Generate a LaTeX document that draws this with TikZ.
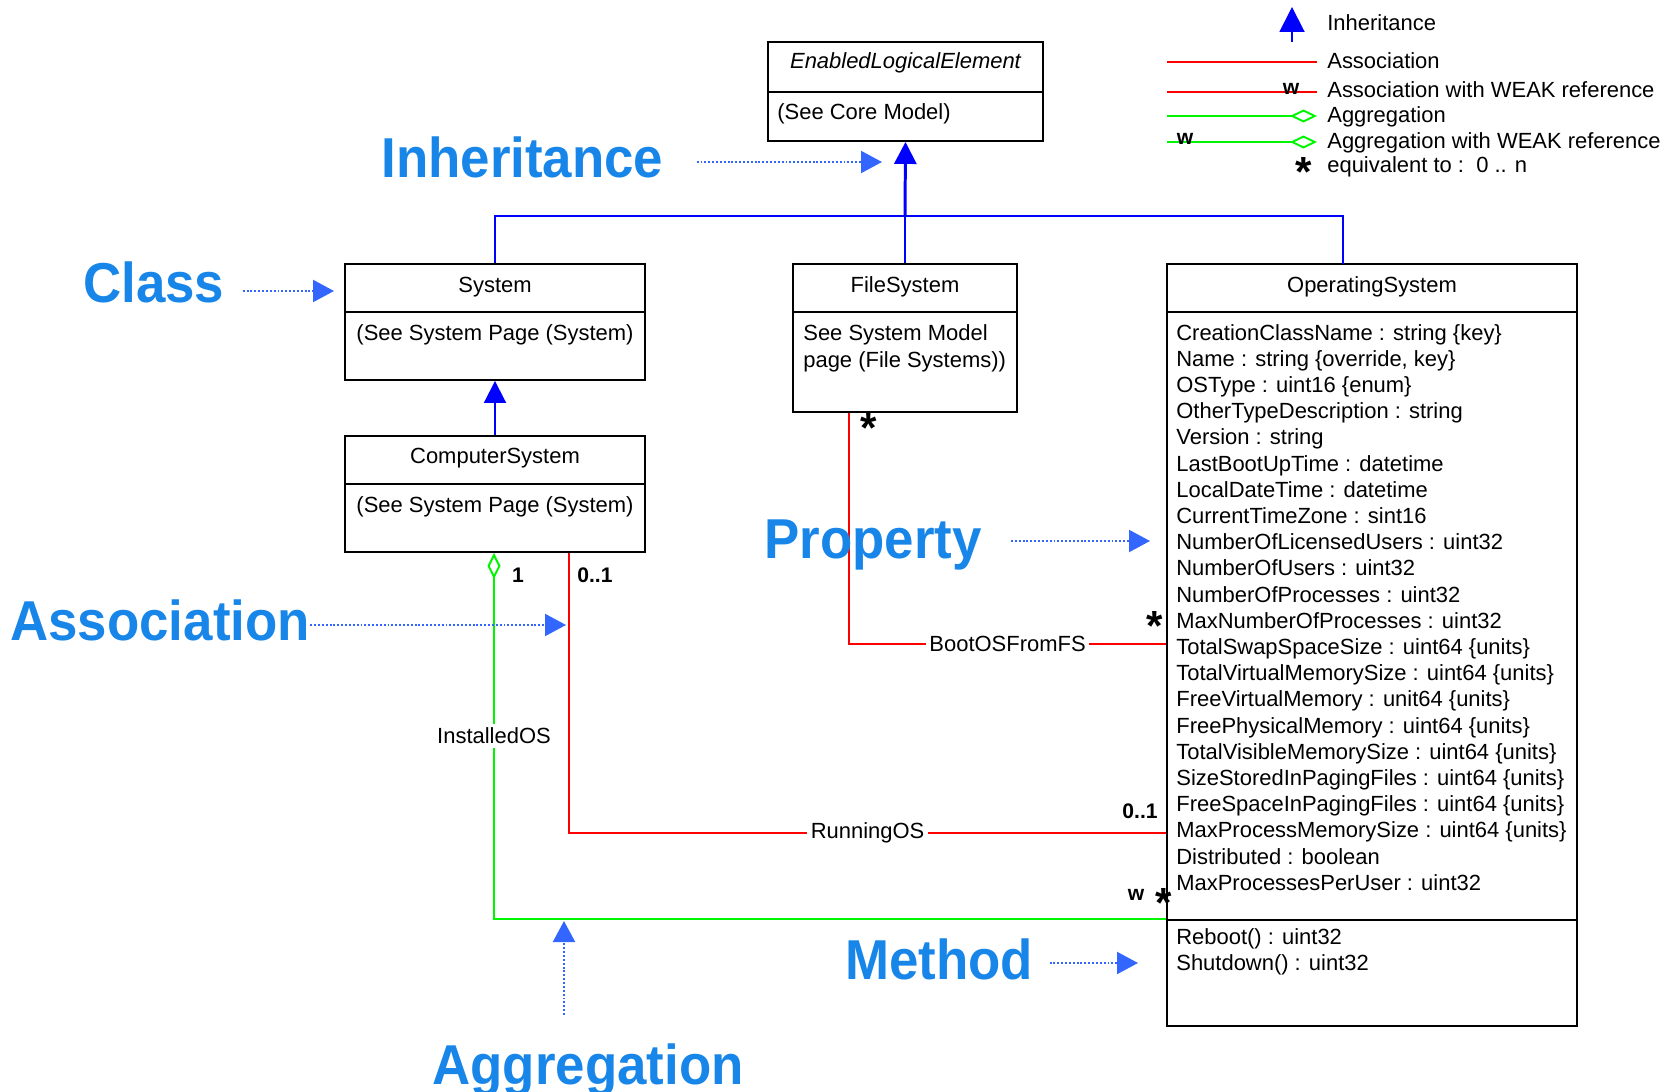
\documentclass[tikz,border=0pt]{standalone}
\usepackage{fontspec}
\setmainfont{Liberation Sans}
\newfontfamily\hintfont[FakeStretch=0.94]{Liberation Sans}
\usetikzlibrary{arrows.meta}

\definecolor{inhblue}{RGB}{0,0,255}
\definecolor{assocred}{RGB}{255,0,0}
\definecolor{aggrgreen}{RGB}{0,245,0}
\definecolor{labelblue}{RGB}{24,134,232}
\definecolor{hintblue}{RGB}{51,102,255}

\tikzset{
  classbox/.style={draw, line width=1.1pt, inner sep=0pt},
  divider/.style={line width=1.1pt},
  txt/.style={inner sep=0pt, font=\fontsize{12.5}{15}\selectfont},
  title/.style={txt, anchor=base},
  body/.style={txt, anchor=base west},
  gen/.style={draw=inhblue, line width=1.1pt},
  genarrow/.style={gen, -{Triangle[length=0.44cm,width=0.44cm]}},
  assoc/.style={draw=assocred, line width=1.1pt},
  aggr/.style={draw=aggrgreen, line width=1.1pt},
  connlbl/.style={txt, fill=white, inner sep=2pt},
  mult/.style={inner sep=0pt, font=\bfseries\fontsize{12}{14}\selectfont},
  starmark/.style={inner sep=0pt, anchor=base, font=\bfseries\fontsize{24}{26}\selectfont},
  weakmark/.style={inner sep=0pt, anchor=base, font=\bfseries\fontsize{12}{14}\selectfont},
  biglabel/.style={inner sep=0pt, text=labelblue, font=\hintfont\bfseries\fontsize{32}{36}\selectfont},
  hint/.style={draw=hintblue, line width=1.2pt, dash pattern=on 1.1pt off 1.1pt,
    -{Triangle[length=0.42cm,width=0.44cm]}}
}

\begin{document}
\begin{tikzpicture}[x=0.02cm, y=-0.02cm]
  \useasboundingbox (0,0) rectangle (1674,1092);

  % classes
  \node[classbox, minimum width=5.5cm, minimum height=1.98cm] (ele) at (905.5,91.5) {};
  \draw[divider] (ele.west |- 0,92) -- (ele.east |- 0,92);
  \node[title, font=\itshape\fontsize{12.5}{15}\selectfont] (eletitle) at (905.5,68) {EnabledLogicalElement};
  \node[body] (elebody) at (777,119) {(See Core Model)};

  \node[classbox, minimum width=6cm, minimum height=2.32cm] (sys) at (495,322) {};
  \draw[divider] (sys.west |- 0,312) -- (sys.east |- 0,312);
  \node[title] (systitle) at (495,292) {System};
  \node[title] (sysbody) at (495,340) {(See System Page (System)};

  \node[classbox, minimum width=6cm, minimum height=2.32cm] (csys) at (495,494) {};
  \draw[divider] (csys.west |- 0,484) -- (csys.east |- 0,484);
  \node[title] (csystitle) at (495,463) {ComputerSystem};
  \node[title] (csysbody) at (495,512) {(See System Page (System)};

  \node[classbox, minimum width=4.48cm, minimum height=2.96cm] (fsys) at (905,338) {};
  \draw[divider] (fsys.west |- 0,312) -- (fsys.east |- 0,312);
  \node[title] (fsystitle) at (905,292) {FileSystem};
  \node[body] (fsysbodya) at (803,340) {See System Model};
  \node[body] (fsysbodyb) at (803,367) {page (File Systems))};

  \node[classbox, minimum width=8.2cm, minimum height=15.24cm] (os) at (1372,645) {};
  \draw[divider] (os.west |- 0,312) -- (os.east |- 0,312);
  \draw[divider] (os.west |- 0,920) -- (os.east |- 0,920);
  \node[title] (ostitle) at (1372,292) {OperatingSystem};
  \foreach \attr [count=\i from 0] in {
      CreationClassName : string \{key\},
      {Name : string \{override, key\}},
      OSType : uint16 \{enum\},
      OtherTypeDescription : string,
      Version : string,
      LastBootUpTime : datetime,
      LocalDateTime : datetime,
      CurrentTimeZone : sint16,
      NumberOfLicensedUsers : uint32,
      NumberOfUsers : uint32,
      NumberOfProcesses : uint32,
      MaxNumberOfProcesses : uint32,
      TotalSwapSpaceSize : uint64 \{units\},
      TotalVirtualMemorySize : uint64 \{units\},
      FreeVirtualMemory : unit64 \{units\},
      FreePhysicalMemory : uint64 \{units\},
      TotalVisibleMemorySize : uint64 \{units\},
      SizeStoredInPagingFiles : uint64 \{units\},
      FreeSpaceInPagingFiles : uint64 \{units\},
      MaxProcessMemorySize : uint64 \{units\},
      Distributed : boolean,
      MaxProcessesPerUser : uint32}
    \node[body] (osattr\i) at (1176,{340+26.2*\i}) {\attr};
  \node[body] (osreboot) at (1176,944) {Reboot() : uint32};
  \node[body] (osshutdown) at (1176,970) {Shutdown() : uint32};

  % inheritance
  \coordinate (bus) at (905,216);
  \coordinate (osdrop) at (1343,264);
  \draw[gen] (sys.north) |- (bus) -| (osdrop);
  \draw[gen] (fsys.north) -- (bus);
  \draw[genarrow, line width=1.7pt] (bus) -- (ele.south);
  \draw[genarrow] (csys.north) -- (sys.south);

  % associations
  \coordinate (bootcorner) at (849,644);
  \draw[assoc] (fsys.south -| bootcorner) -- (bootcorner)
    -- node[connlbl] (bootlbl) {BootOSFromFS} (os.west |- bootcorner);
  \node[starmark] (bootstara) at (869,442) {*};
  \node[starmark] (bootstarb) at (1155,640) {*};

  \coordinate (runcorner) at (569,833);
  \draw[assoc] (csys.south -| runcorner) -- (runcorner)
    -- node[connlbl] (runlbl) {RunningOS} (os.west |- runcorner);
  \node[mult, anchor=base west] (runmulta) at (577,582) {0..1};
  \node[mult, anchor=base east] (runmultb) at (1158,818) {0..1};

  % aggregation
  \coordinate (instcorner) at (494,919);
  \draw[aggr, -{Diamond[open,length=0.52cm,width=0.26cm]}] (os.west |- instcorner) -- (instcorner)
    -- node[connlbl] (instlbl) {InstalledOS} (csys.south -| instcorner);
  \node[mult, anchor=base] (instmult) at (518,582) {1};
  \node[weakmark] (instweak) at (1136,900) {w};
  \node[starmark] (inststar) at (1164,917) {*};

  % callouts
  \node[biglabel, anchor=base west] (lblinh) at (381,177) {Inheritance};
  \node[biglabel, anchor=base west] (lblclass) at (83,302) {Class};
  \node[biglabel, anchor=base east] (lblprop) at (982,558) {Property};
  \node[biglabel, anchor=base west] (lblassoc) at (10,640) {Association};
  \node[biglabel, anchor=base west] (lblmeth) at (845,979) {Method};
  \node[biglabel, anchor=base west] (lblaggr) at (432,1084) {Aggregation};

  \coordinate (inhtip) at (882,162);
  \coordinate (classtip) at (334,291);
  \coordinate (proptip) at (1150,541);
  \coordinate (assoctip) at (566,625);
  \coordinate (methtip) at (1138,963);
  \coordinate (aggrtip) at (564,921);
  \draw[hint, shorten <=0.66cm] (lblinh.east |- inhtip) -- (inhtip);
  \draw[hint, shorten <=0.36cm] (lblclass.east |- classtip) -- (classtip);
  \draw[hint, shorten <=0.58cm] (lblprop.east |- proptip) -- (proptip);
  \draw[hint] (lblassoc.east |- assoctip) -- (assoctip);
  \draw[hint, shorten <=0.32cm] (lblmeth.east |- methtip) -- (methtip);
  \draw[hint, shorten <=0.56cm] (lblaggr.north -| aggrtip) -- (aggrtip);

  % legend
  \draw[gen, -{Triangle[length=0.5cm,width=0.5cm]}] (1292,42) -- (1292,7);
  \draw[assoc] (1167,62) -- (1317,62);
  \draw[assoc] (1167,92) -- (1317,92);
  \draw[aggr, -{Diamond[open,length=0.54cm,width=0.26cm]}] (1167,116) -- (1317,116);
  \draw[aggr, -{Diamond[open,length=0.54cm,width=0.26cm]}] (1167,142) -- (1317,142);
  \node[weakmark] (legweaka) at (1291,94) {w};
  \node[weakmark] (legweakb) at (1185,144) {w};
  \node[starmark] (legstar) at (1304,186) {*};
  \node[body] (leginh) at (1327,31) {Inheritance};
  \node[body] (legassoc) at (1327,68) {Association};
  \node[body] (legassocw) at (1327,97) {Association with WEAK reference};
  \node[body] (legaggr) at (1327,122) {Aggregation};
  \node[body] (legaggrw) at (1327,148) {Aggregation with WEAK reference};
  \node[body] (legstartxt) at (1327,172) {equivalent to :\ \ 0 .. n};
\end{tikzpicture}
\end{document}
